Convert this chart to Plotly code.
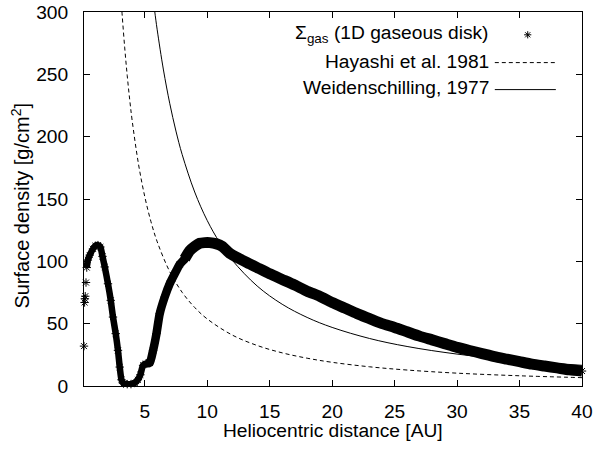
import plotly.graph_objects as go

# ---- data ----
gas_x = [0.14, 0.19, 0.21, 0.24, 0.30, 0.36, 0.45, 0.6, 0.86, 1.05, 1.26, 1.45, 1.62, 1.8,
         2.06, 2.28, 2.46, 2.68, 2.86, 3.0, 3.14, 3.3, 3.6, 3.9, 4.2, 4.45, 4.65, 4.87, 5.1,
         5.4, 5.67, 5.94, 6.2, 6.6, 7.0, 7.4, 7.8, 8.2, 8.6, 9.0, 9.4, 9.8, 10.2, 10.75,
         11.2, 11.8, 12.5, 13.4, 14, 15, 16, 17, 18, 19, 20, 21, 22, 23, 24, 25, 26, 27,
         28, 29, 30, 31, 32, 33, 34, 35, 36, 37, 38, 39, 40]
gas_y = [32, 67, 70, 72, 83, 95, 101, 105, 110, 112.5, 113, 111.5, 104, 95.5,
         82, 68.7, 55.3, 42, 28.6, 15.2, 5, 2, 1.5, 1.5, 2.5, 5, 9, 16.6, 18,
         18.5, 28.6, 42, 58, 71.4, 82, 90, 97.5, 102, 108.5, 112, 114.5, 115, 115, 114,
         112, 106.5, 102.5, 98, 95, 90, 85.5, 81, 76, 72, 67, 62.5, 58, 54, 50, 47, 43.5, 40,
         37, 34, 31, 28.5, 26, 23.5, 21.5, 19.5, 17.5, 16, 14.5, 13, 12]

hay_x = [3.1, 3.2, 3.4, 3.6, 3.8, 4.0, 4.5, 5, 5.5, 6, 7, 8, 9, 10, 12, 14, 16, 18, 20,
         23, 26, 30, 35, 40]
hay_y = [311.5, 297.0, 271.2, 248.9, 229.5, 212.5, 178.1, 152.1, 131.8, 115.7, 91.8, 75.1,
         63.0, 53.8, 40.9, 32.5, 26.6, 22.3, 19.0, 15.4, 12.8, 10.3, 8.2, 6.7]

wei_x = [5.6, 5.8, 6, 6.5, 7, 7.5, 8, 9, 10, 11, 12, 14, 16, 18, 20, 23, 26, 30, 35, 40]
wei_y = [317, 300.6, 285.7, 253.5, 226.8, 204.5, 185.6, 155.6, 132.8, 115.1, 101.0, 80.2,
         65.6, 55.0, 47.0, 38.1, 31.7, 25.6, 20.3, 16.6]

x_ticks = [5, 10, 15, 20, 25, 30, 35, 40]
y_ticks = [0, 50, 100, 150, 200, 250, 300]

legend_labels = ["Σ<sub>gas</sub> (1D gaseous disk)", "Hayashi et al. 1981", "Weidenschilling, 1977"]

FONT = "Liberation Sans, Arial, Helvetica, sans-serif"
FS = 19.2

fig = go.Figure()

# theory curves
fig.add_trace(go.Scatter(x=hay_x, y=hay_y, mode="lines", line=dict(color="black", width=1, dash="4px,3px", shape="spline"),
                         showlegend=False))
fig.add_trace(go.Scatter(x=wei_x, y=wei_y, mode="lines", line=dict(color="black", width=1, shape="spline"),
                         showlegend=False))

# gas band (dense markers in the original) drawn as thick strokes of varying width
def seg(lo, hi):
    xs = [x for x in gas_x if lo <= x <= hi]
    ys = [y for x, y in zip(gas_x, gas_y) if lo <= x <= hi]
    return xs, ys

for lo, hi, w in [(0.36, 5.4, 6.5), (5.1, 8.6, 8.5), (8.2, 40, 11)]:
    xs, ys = seg(lo, hi)
    fig.add_trace(go.Scatter(x=xs, y=ys, mode="lines", line=dict(color="black", width=w, shape="spline", smoothing=0.6),
                             showlegend=False, hoverinfo="skip"))

fig.add_trace(go.Scatter(x=gas_x, y=gas_y, mode="markers", cliponaxis=False,
                         marker=dict(symbol="asterisk-open", size=7, color="black", line=dict(color="black", width=1)),
                         showlegend=False))

# legend sample star on an overlay axis in [0,1]
fig.add_trace(go.Scatter(x=[0.891], y=[0.939], xaxis="x2", yaxis="y2", mode="markers",
                         marker=dict(symbol="asterisk-open", size=6, color="black", line=dict(color="black", width=1)),
                         showlegend=False, hoverinfo="skip"))

axis_common = dict(showline=True, linecolor="black", linewidth=1, mirror="ticks", ticks="inside",
                   ticklen=6, tickcolor="black", tickwidth=1, showgrid=False, zeroline=False,
                   automargin=False,
                   tickfont=dict(family=FONT, size=FS, color="black"))

fig.update_layout(
    width=595, height=452,
    margin=dict(l=84, r=13, t=12, b=66),
    plot_bgcolor="white", paper_bgcolor="white",
    font=dict(family=FONT, size=FS, color="black"),
    xaxis=dict(range=[0.14, 40], tickvals=x_ticks, ticktext=[str(v) for v in x_ticks],
               ticklabelstandoff=8, **axis_common),
    yaxis=dict(range=[0, 300], tickvals=y_ticks, ticktext=[str(v) for v in y_ticks],
               ticklabelstandoff=11, **axis_common),
    xaxis2=dict(overlaying="x", range=[0, 1], visible=False, automargin=False),
    yaxis2=dict(overlaying="y", range=[0, 1], visible=False, automargin=False),
    showlegend=False,
)

# axis titles
fig.add_annotation(text="Heliocentric distance [AU]", xref="paper", yref="paper", x=0.5, y=-0.119,
                   xanchor="center", yanchor="middle", showarrow=False, font=dict(family=FONT, size=FS))
fig.add_annotation(text="Surface density [g/cm<sup>2</sup>]", xref="paper", yref="paper", x=-0.128, y=0.483,
                   xanchor="center", yanchor="middle", textangle=-90, showarrow=False, font=dict(family=FONT, size=20))

# manual key (text right-justified, sample to the right, as in the original)
key_y = [0.9423, 0.8680, 0.7980]
for lab, yy in zip(legend_labels, key_y):
    fig.add_annotation(text=lab, xref="paper", yref="paper", x=0.817, y=yy, xanchor="right", yanchor="middle",
                       showarrow=False, font=dict(family=FONT, size=FS))
fig.add_shape(type="line", xref="paper", yref="paper", x0=0.8249, x1=0.9475, y0=0.8647, y1=0.8647,
              line=dict(color="black", width=1, dash="4px,3px"))
fig.add_shape(type="line", xref="paper", yref="paper", x0=0.8249, x1=0.9475, y0=0.7925, y1=0.7925,
              line=dict(color="black", width=1))

fig.write_html("out.html", config={"displayModeBar": False},
               post_script="document.body.style.margin='0';")
